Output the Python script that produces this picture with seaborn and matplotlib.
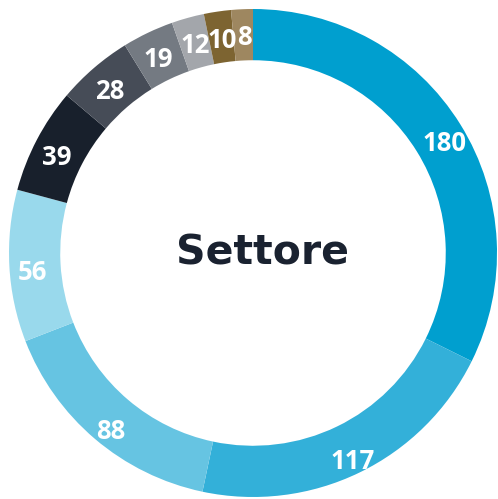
import matplotlib
matplotlib.use("Agg")
import matplotlib.pyplot as plt
import seaborn as sns

values = [180, 117, 88, 56, 39, 28, 19, 12, 10, 8]
labels = ["180", "117", "88", "56", "39", "28", "19", "12", "10", "8"]
colors = ["#009fcf", "#33b0d9", "#66c4e2", "#99d9ec", "#18202c",
          "#464c57", "#747a82", "#a3a6ab", "#7d6431", "#9e8760"]
title = "Settore"

sns.set_theme(style="white")
palette = sns.color_palette(colors)

R_PX = 244
fig = plt.figure(figsize=(4.98, 4.99), dpi=100)
ax = fig.add_axes([(253 - R_PX) / 498, (499 - 253 - R_PX) / 499, 2 * R_PX / 498, 2 * R_PX / 499])
wedges, texts = ax.pie(values, colors=palette, startangle=90, counterclock=False,
                       radius=1.0, wedgeprops=dict(width=0.21, linewidth=0),
                       labels=labels, labeldistance=0.915,
                       textprops=dict(color="white", fontsize=18.5, fontweight="bold",
                                      family="Open Sans"))
for t in texts:
    t.set_ha("center")
    t.set_va("center")
    x, y = t.get_position()
    t.set_position((x + 2 / R_PX, y - 8 / R_PX))
ax.text(0.039, -0.049, title, ha="center", va="baseline", fontsize=29.5,
        fontweight="bold", family="DejaVu Sans", color="#1a2230")
ax.set_xlim(-1, 1)
ax.set_ylim(-1, 1)
ax.set_aspect("equal")
ax.axis("off")
fig.savefig("out.png", dpi=100)
